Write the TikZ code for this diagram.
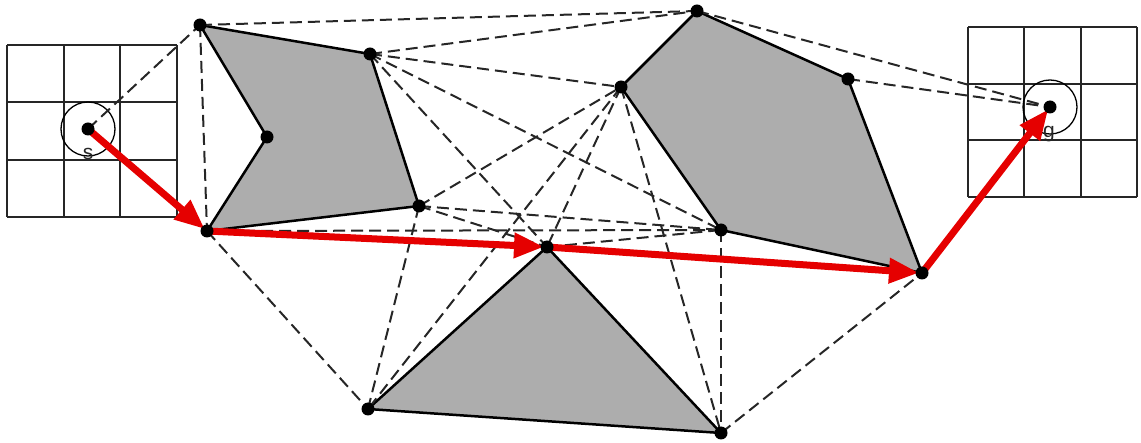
\documentclass[tikz,border=0pt]{standalone}
\usepackage{fontspec}
\setsansfont{Liberation Sans}
\usetikzlibrary{arrows.meta}
\begin{document}
\begin{tikzpicture}[x=1pt,y=-1pt,
  obst/.style={fill=black!32,draw=black,line width=2.5pt,line join=round},
  vis/.style={dash pattern=on 12pt off 6pt,line width=2pt,black!85},
  gridline/.style={line width=2pt,black!85},
  pathseg/.style={line width=7pt,red!90!black,shorten >=3pt,
     -{Triangle[length=30pt,width=24pt]}},
  dot/.style={circle,fill=black,inner sep=0pt,minimum size=13pt},
  lab/.style={font=\sffamily\fontsize{21}{21}\selectfont,inner sep=0pt,text=black!85}]
\useasboundingbox (0,0) rectangle (1141,443);
% coordinates
\coordinate (s) at (88,129);
\coordinate (g) at (1050,107);
\coordinate (A1) at (200,25);
\coordinate (A2) at (370,54);
\coordinate (A3) at (419,206);
\coordinate (A4) at (207,231);
\coordinate (A5) at (267,137);
\coordinate (B1) at (697,11);
\coordinate (B2) at (848,79);
\coordinate (B3) at (922,273);
\coordinate (B4) at (721,230);
\coordinate (B5) at (621,87);
\coordinate (C1) at (547,247);
\coordinate (C2) at (368,409);
\coordinate (C3) at (721,433);
% grids
\foreach \x in {7,63.7,120.3,177}
  \draw[gridline] (\x,45) -- (\x,217);
\foreach \y in {45,102.3,159.7,217}
  \draw[gridline] (7,\y) -- (177,\y);
\foreach \x in {968,1024.3,1080.7,1137}
  \draw[gridline] (\x,27) -- (\x,197);
\foreach \y in {27,83.7,140.3,197}
  \draw[gridline] (968,\y) -- (1137,\y);
\draw[line width=1.3pt] (s) circle (27);
\draw[line width=1.3pt] (g) circle (27);
\node[lab] (slab) at (88,154) {s};
\node[lab] (glab) at (1049,134) {g};
% obstacles
\draw[obst] (A1) -- (A2) -- (A3) -- (A4) -- (A5) -- cycle;
\draw[obst] (B1) -- (B2) -- (B3) -- (B4) -- (B5) -- cycle;
\draw[obst] (C1) -- (C2) -- (C3) -- cycle;
% visibility edges
\draw[vis] (s) -- (A1);
\draw[vis] (A1) -- (A4);
\draw[vis] (A1) -- (B1);
\draw[vis] (A2) -- (B1);
\draw[vis] (A2) -- (B5);
\draw[vis] (A2) -- (B4);
\draw[vis] (A2) -- (C1);
\draw[vis] (A3) -- (B5);
\draw[vis] (A3) -- (B4);
\draw[vis] (A3) -- (C1);
\draw[vis] (A3) -- (C2);
\draw[vis] (A4) -- (B4);
\draw[vis] (A4) -- (C2);
\draw[vis] (B5) -- (C2);
\draw[vis] (B5) -- (C1);
\draw[vis] (B5) -- (C3);
\draw[vis] (C1) -- (B4);
\draw[vis] (B4) -- (C3);
\draw[vis] (C3) -- (B3);
\draw[vis] (B1) -- (g);
\draw[vis] (B2) -- (g);
% shortest path
\draw[pathseg] (s) -- (A4);
\draw[pathseg] (A4) -- (C1);
\draw[pathseg] (C1) -- (B3);
\draw[pathseg] (B3) -- (g);
% vertices
\foreach \p in {s,g,A1,A2,A3,A4,A5,B1,B2,B3,B4,B5,C1,C2,C3}
  \node[dot] (d\p) at (\p) {};
\end{tikzpicture}
\end{document}
